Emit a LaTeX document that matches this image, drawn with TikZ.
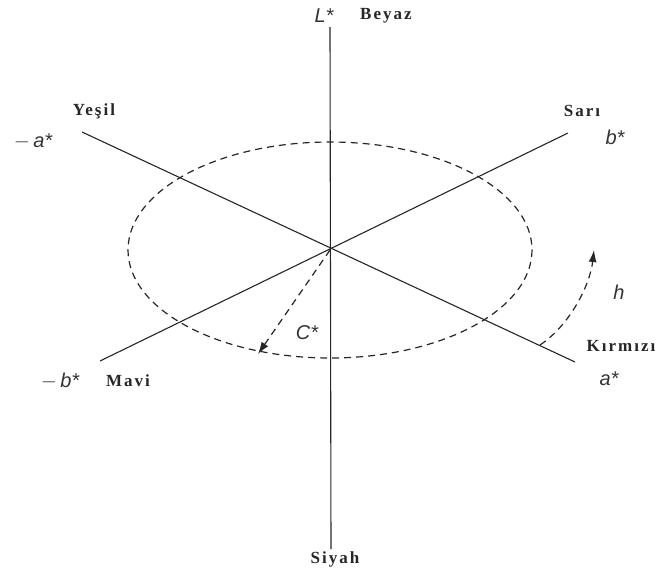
\documentclass[tikz,border=0pt]{standalone}
\usepackage{fontspec}
\setmainfont{Liberation Serif}
\newfontfamily\symfont{Liberation Sans}
\newfontfamily\colfont[LetterSpace=12]{Liberation Serif}
\usetikzlibrary{arrows.meta}
\begin{document}
\begin{tikzpicture}[x=1pt,y=-1pt,
  axisline/.style={draw=black!85,line width=1.1pt},
  dashline/.style={draw=black!85,line width=1.2pt,dash pattern=on 7pt off 5pt},
  colname/.style={font=\fontsize{17}{19}\selectfont\colfont\bfseries,text=black!85,inner sep=0pt},
  symlabel/.style={font=\fontsize{20}{22}\selectfont\symfont\itshape,text=black!80,inner sep=0pt},
  arrowtip/.style={-{Latex[length=12pt,width=8pt]}}]
\useasboundingbox (0,0) rectangle (662,576);
\coordinate (O) at (330,250);
\coordinate (Ltop) at (330,27);
\coordinate (Lbot) at (331,549);
\coordinate (aneg) at (82,132);
\coordinate (apos) at (575,362);
\coordinate (bneg) at (100,361);
\coordinate (bpos) at (568,133);
\coordinate (Ctip) at (258,354);
\coordinate (hs) at (540,345);
\coordinate (he) at (594,250);
% axes
\draw[axisline] (Ltop) -- (Lbot);
\draw[axisline] (aneg) -- (apos);
\draw[axisline] (bneg) -- (bpos);
% ellipse
\draw[dashline] (O) ellipse [x radius=202, y radius=108];
% C* arrow
\draw[dashline,arrowtip] (O) -- (Ctip);
% h arc
\draw[dashline,arrowtip] (hs) .. controls (570,325) and (590,285) .. (he);
% labels
\node[symlabel] (Ls) at (324,16) {L*};
\node[colname] (beyaz) at (386,16) {Beyaz};
\node[colname] (yesil) at (94,111) {Yeşil};
\node[symlabel] (ma) at (33,141) {$-$\,a*};
\node[colname] (sari) at (582,111) {Sarı};
\node[symlabel] (bs) at (615,137) {b*};
\node[symlabel] (mb) at (60,381) {$-$\,b*};
\node[colname] (mavi) at (128,381) {Mavi};
\node[colname] (kirmizi) at (621,346) {Kırmızı};
\node[symlabel] (as) at (609,379) {a*};
\node[symlabel] (cs) at (307,333) {C*};
\node[symlabel] (hl) at (619,292) {h};
\node[colname] (siyah) at (335,559) {Siyah};
\end{tikzpicture}
\end{document}
